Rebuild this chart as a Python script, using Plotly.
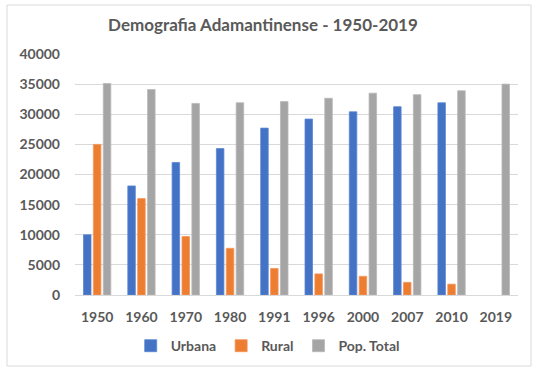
import plotly.graph_objects as go

anos = ["1950", "1960", "1970", "1980", "1991", "1996", "2000", "2007", "2010", "2019"]
urbana = [10000, 18100, 22000, 24300, 27700, 29200, 30400, 31250, 31900, None]
rural = [25000, 16000, 9700, 7750, 4400, 3500, 3100, 2100, 1800, None]
pop_total = [35100, 34100, 31800, 31900, 32100, 32650, 33500, 33250, 33900, 35000]

FONT = "Lato"
TXT = "#595959"

fig = go.Figure()
fig.add_bar(name="Urbana", x=anos, y=urbana, marker=dict(color="#4472C4", line=dict(color="#5B86D6", width=0.8)))
fig.add_bar(name="Rural", x=anos, y=rural, marker=dict(color="#ED7D31", line=dict(color="#F4955A", width=0.8)))
fig.add_bar(name="Pop. Total", x=anos, y=pop_total, marker=dict(color="#A5A5A5", line=dict(color="#B8B8B8", width=0.8)))

fig.update_layout(
    width=540, height=372,
    margin=dict(l=75, r=22, t=54, b=77, autoexpand=False),
    paper_bgcolor="white", plot_bgcolor="white",
    barmode="group", bargap=0.33, bargroupgap=0.24,
    title=dict(text="Demografia Adamantinense - 1950-2019", x=0.487, xref="container", xanchor="center",
               y=1 - 25 / 372, yref="container", yanchor="middle",
               font=dict(family=FONT, size=17, color=TXT, weight="bold")),
    font=dict(family=FONT, color=TXT),
    legend=dict(orientation="h", x=0.435, xanchor="center", y=-0.212, yanchor="middle",
                font=dict(family=FONT, size=14, color=TXT, weight="bold"),
                itemwidth=30, tracegroupgap=0, traceorder="normal"),
    showlegend=True,
)
fig.update_xaxes(showgrid=False, showline=False, ticks="", ticklabelstandoff=12, automargin=False,
                 tickfont=dict(family=FONT, size=14, color=TXT, weight="bold"))
fig.update_yaxes(range=[0, 40000], dtick=5000, showgrid=True, gridcolor="#D9D9D9", gridwidth=1,
                 zeroline=True, zerolinecolor="#D9D9D9", zerolinewidth=1, showline=False,
                 tickformat="d", ticklabelstandoff=14, automargin=False,
                 tickfont=dict(family=FONT, size=14, color=TXT, weight="bold"))

fig.add_shape(type="rect", xref="paper", yref="paper",
              x0=(7 - 75) / 443, x1=(531 - 75) / 443, y0=(295 - 366) / 241, y1=(295 - 5) / 241,
              line=dict(color="#D9D9D9", width=1), fillcolor="rgba(0,0,0,0)", layer="below")

fig.write_html("out.html", config={"displayModeBar": False},
               post_script="document.body.style.margin='0';document.body.style.overflow='hidden';")
